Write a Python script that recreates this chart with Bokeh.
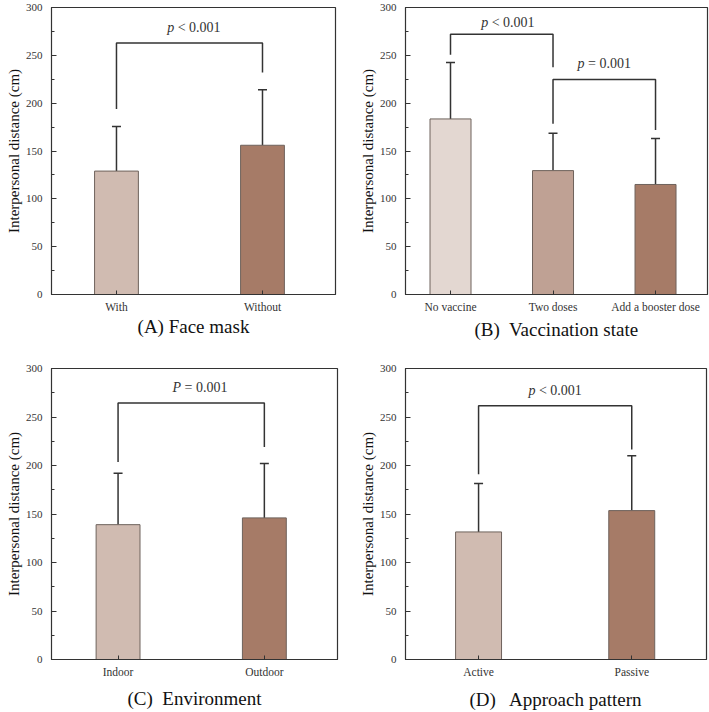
from bokeh.plotting import figure
from bokeh.models import Range1d, FixedTicker, Whisker, TeeHead, ColumnDataSource
from bokeh.layouts import row, column
from bokeh.embed import file_html
from bokeh.resources import INLINE
from bokeh.core.properties import value

# ---------------- data ----------------
y_ticks = [0, 50, 100, 150, 200, 250, 300]
y_minor = [25, 75, 125, 175, 225, 275]

a_categories = ["With", "Without"]
a_means = [129, 156]
a_sds = [46.5, 58]
a_colors = ["#d0bbb1", "#a67b67"]
a_bracket_pairs = [(1, 2)]
a_bracket_top = [263]
a_bracket_left_end = [194]
a_bracket_right_end = [232]
a_p_prefix = ["p"]
a_p_rest = ["< 0.001"]
a_p_x = [1.53]
a_p_y = [279]

b_categories = ["No vaccine", "Two doses", "Add a booster dose"]
b_means = [183.5, 129.5, 115]
b_sds = [59, 39, 48]
b_colors = ["#e3d7d1", "#bfa194", "#a67b67"]
b_bracket_pairs = [(1, 2), (2, 3)]
b_bracket_top = [272, 224.7]
b_bracket_left_end = [250.5, 178.4]
b_bracket_right_end = [237.6, 172]
b_p_prefix = ["p", "p"]
b_p_rest = ["< 0.001", "= 0.001"]
b_p_x = [1.56, 2.5]
b_p_y = [284.6, 241]

c_categories = ["Indoor", "Outdoor"]
c_means = [139, 146]
c_sds = [53, 56]
c_colors = ["#d0bbb1", "#a67b67"]
c_bracket_pairs = [(1, 2)]
c_bracket_top = [264.5]
c_bracket_left_end = [203.5]
c_bracket_right_end = [219]
c_p_prefix = ["P"]
c_p_rest = ["= 0.001"]
c_p_x = [1.56]
c_p_y = [280.6]

d_categories = ["Active", "Passive"]
d_means = [131.5, 153.5]
d_sds = [50, 56.5]
d_colors = ["#d0bbb1", "#a67b67"]
d_bracket_pairs = [(1, 2)]
d_bracket_top = [261.5]
d_bracket_left_end = [191]
d_bracket_right_end = [216.5]
d_p_prefix = ["p"]
d_p_rest = ["< 0.001"]
d_p_x = [1.5]
d_p_y = [277]

captions = ["(A) Face mask",
            "(B)\u00a0 Vaccination state",
            "(C)\u00a0 Environment",
            "(D)\u00a0\u00a0 Approach pattern"]

# ---------------- styling ----------------
FONT = "Liberation Serif"
INK = "#333333"
P_FS = 14


def make_panel(cats, means, sds, colors, bar_width, xr, pairs, tops, lends, rends,
               prefixes, rests, px, py, caption, width, height,
               bl, br, bt, bb, cap_standoff):
    n = len(cats)
    xs = list(range(1, n + 1))
    p = figure(width=width, height=height,
               x_range=Range1d(*xr), y_range=Range1d(0, 300),
               output_backend="svg", toolbar_location=None, tools="",
               min_border_left=bl, min_border_right=br,
               min_border_top=bt, min_border_bottom=bb)
    p.grid.visible = False
    p.outline_line_color = INK
    p.outline_line_width = 1.2
    p.background_fill_color = "white"
    p.border_fill_color = "white"

    src = ColumnDataSource(dict(x=xs, top=means,
                                upper=[m + s for m, s in zip(means, sds)],
                                color=colors))
    p.vbar(x="x", top="top", bottom=0, width=bar_width, fill_color="color",
           line_color="#6e625c", line_width=1, source=src)
    w = Whisker(base="x", lower="top", upper="upper", source=src,
                dimension="height", line_color=INK, line_width=1.5,
                upper_head=TeeHead(size=9, line_color=INK, line_width=1.5),
                lower_head=None)
    p.add_layout(w)

    # significance brackets
    bx, by = [], []
    for (i, j), t, le, re in zip(pairs, tops, lends, rends):
        bx.append([i, i, j, j])
        by.append([le, t, t, re])
    p.multi_line(bx, by, line_color=INK, line_width=1.5)

    # p-value labels: italic letter + upright rest
    for pre, rest, x, y in zip(prefixes, rests, px, py):
        pre_w = (0.611 if pre == "P" else 0.5) * P_FS
        rest_w = 3.064 * P_FS
        total = pre_w + 0.25 * P_FS + rest_w
        left = -total / 2
        p.text(x=[x], y=[y], text=[pre], x_offset=left + pre_w,
               text_align="right", text_baseline="middle",
               text_font=value(FONT), text_font_style="italic",
               text_font_size=f"{P_FS}px", text_color=INK)
        p.text(x=[x], y=[y], text=[rest], x_offset=left + pre_w + 0.25 * P_FS,
               text_align="left", text_baseline="middle",
               text_font=value(FONT), text_font_size=f"{P_FS}px",
               text_color=INK)

    # x axis
    xa = p.xaxis[0]
    xa.ticker = FixedTicker(ticks=xs)
    xa.major_label_overrides = {x: c for x, c in zip(xs, cats)}
    xa.major_tick_in = 4
    xa.major_tick_out = 0
    xa.minor_tick_in = 0
    xa.minor_tick_out = 0
    xa.major_label_standoff = 6
    xa.major_label_text_font = FONT
    xa.major_label_text_font_size = "11.5px"
    xa.major_label_text_color = INK
    xa.axis_line_color = INK
    xa.major_tick_line_color = INK
    xa.axis_label = caption
    xa.axis_label_text_font = FONT
    xa.axis_label_text_font_style = "normal"
    xa.axis_label_text_font_size = "19px"
    xa.axis_label_text_color = "#111111"
    xa.axis_label_standoff = cap_standoff

    # y axis
    ya = p.yaxis[0]
    ya.ticker = FixedTicker(ticks=y_ticks, minor_ticks=y_minor)
    ya.major_tick_in = 5
    ya.major_tick_out = 0
    ya.minor_tick_in = 3
    ya.minor_tick_out = 0
    ya.major_label_standoff = 9
    ya.major_label_text_font = FONT
    ya.major_label_text_font_size = "11px"
    ya.major_label_text_color = INK
    ya.axis_line_color = INK
    ya.major_tick_line_color = INK
    ya.minor_tick_line_color = INK
    ya.axis_label = "Interpersonal distance (cm)"
    ya.axis_label_text_font = FONT
    ya.axis_label_text_font_style = "normal"
    ya.axis_label_text_font_size = "15px"
    ya.axis_label_text_color = "#111111"
    ya.axis_label_standoff = 1
    return p


pa = make_panel(a_categories, a_means, a_sds, a_colors, 0.3, (0.555, 2.5),
                a_bracket_pairs, a_bracket_top, a_bracket_left_end, a_bracket_right_end,
                a_p_prefix, a_p_rest, a_p_x, a_p_y, captions[0],
                354, 356, 51, 19, 5, 61, 0)
pb = make_panel(b_categories, b_means, b_sds, b_colors, 0.4, (0.561, 3.507),
                b_bracket_pairs, b_bracket_top, b_bracket_left_end, b_bracket_right_end,
                b_p_prefix, b_p_rest, b_p_x, b_p_y, captions[1],
                355, 356, 51, 2, 7, 62, 3)
pc = make_panel(c_categories, c_means, c_sds, c_colors, 0.3, (0.545, 2.5),
                c_bracket_pairs, c_bracket_top, c_bracket_left_end, c_bracket_right_end,
                c_p_prefix, c_p_rest, c_p_x, c_p_y, captions[2],
                354, 356, 51, 17, 12, 50, 7)
pd_ = make_panel(d_categories, d_means, d_sds, d_colors, 0.3, (0.523, 2.488),
                 d_bracket_pairs, d_bracket_top, d_bracket_left_end, d_bracket_right_end,
                 d_p_prefix, d_p_rest, d_p_x, d_p_y, captions[3],
                 355, 356, 51, 3, 12, 50, 8)

layout = column(row(pa, pb), row(pc, pd_))
open("out.html", "w").write(file_html(layout, INLINE))
